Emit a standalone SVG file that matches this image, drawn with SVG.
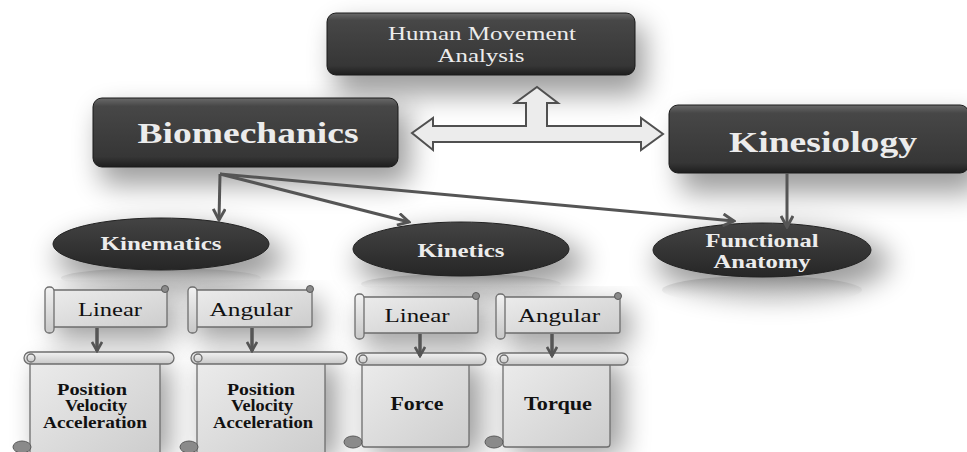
<svg xmlns="http://www.w3.org/2000/svg" width="967" height="452" viewBox="0 0 967 452">
<defs>
<style>
.box{fill:url(#boxg);stroke:#1a1a1a;stroke-width:1}
.ell{fill:url(#ellg);stroke:#222;stroke-width:1}
.wt{fill:#ececec;font-family:'Liberation Serif','Times New Roman','DejaVu Serif',serif;text-anchor:middle}
.bt{fill:#111;font-family:'Liberation Serif','Times New Roman','DejaVu Serif',serif;font-weight:bold;text-anchor:middle}
.nt{fill:#111;font-family:'Liberation Serif','Times New Roman','DejaVu Serif',serif;text-anchor:middle}
.paper{fill:url(#paperg);stroke:#6e6e6e;stroke-width:1.3}
.roll{fill:url(#rollg);stroke:#6e6e6e;stroke-width:1.3}
.curl{fill:#8a8a8a;stroke:#5a5a5a;stroke-width:1}
.con{stroke:#555;stroke-width:3;fill:none}
.sm{stroke:#555;stroke-width:3.5;fill:none}
.big{fill:#ececec;stroke:#505050;stroke-width:2}
.sh{fill:#000;opacity:0.38;filter:url(#blur)}
.ref{fill:url(#refg);opacity:0.5}
</style>
<linearGradient id="boxg" x1="0" y1="0" x2="0" y2="1">
<stop offset="0" stop-color="#6a6a6a"/>
<stop offset="0.12" stop-color="#474747"/>
<stop offset="0.85" stop-color="#363636"/>
<stop offset="1" stop-color="#1e1e1e"/>
</linearGradient>
<linearGradient id="ellg" x1="0" y1="0" x2="0" y2="1">
<stop offset="0" stop-color="#444"/>
<stop offset="1" stop-color="#262626"/>
</linearGradient>
<linearGradient id="paperg" x1="0" y1="0" x2="1" y2="1">
<stop offset="0" stop-color="#ececec"/>
<stop offset="1" stop-color="#cdcdcd"/>
</linearGradient>
<linearGradient id="rollg" x1="0" y1="0" x2="0" y2="1">
<stop offset="0" stop-color="#f2f2f2"/>
<stop offset="1" stop-color="#c8c8c8"/>
</linearGradient>
<linearGradient id="refg" x1="0" y1="0" x2="0" y2="1">
<stop offset="0" stop-color="#777"/>
<stop offset="1" stop-color="#fff" stop-opacity="0"/>
</linearGradient>
<filter id="blur" x="-50%" y="-50%" width="200%" height="200%"><feGaussianBlur stdDeviation="14"/></filter>
<marker id="ah" viewBox="0 0 12 12" refX="10" refY="6" markerWidth="12" markerHeight="12" markerUnits="userSpaceOnUse" orient="auto">
<path d="M1,1 L10,6 L1,11" fill="none" stroke="#555" stroke-width="2.6"/>
</marker>
<marker id="ah2" viewBox="0 0 14 14" refX="12" refY="7" markerWidth="14" markerHeight="14" markerUnits="userSpaceOnUse" orient="auto">
<path d="M1,1 L12,7 L1,13" fill="none" stroke="#555" stroke-width="3"/>
</marker>
</defs>
<rect width="967" height="452" fill="#fff"/>
<g id="shadows">
<rect class="sh" x="335" y="25" width="310" height="70" rx="10"/>
<rect class="sh" x="100" y="110" width="310" height="75" rx="10"/>
<rect class="sh" x="680" y="118" width="300" height="75" rx="10"/>
<ellipse class="sh" cx="170" cy="258" rx="115" ry="32"/>
<ellipse class="sh" cx="470" cy="262" rx="115" ry="32"/>
<ellipse class="sh" cx="772" cy="262" rx="118" ry="34"/>
<rect class="sh" x="55" y="300" width="120" height="40" opacity="0.25"/>
<rect class="sh" x="195" y="300" width="125" height="40" opacity="0.25"/>
<rect class="sh" x="362" y="306" width="125" height="40" opacity="0.25"/>
<rect class="sh" x="505" y="306" width="125" height="40" opacity="0.25"/>
<rect class="sh" x="38" y="365" width="132" height="95" opacity="0.25"/>
<rect class="sh" x="205" y="365" width="132" height="95" opacity="0.25"/>
<rect class="sh" x="370" y="365" width="112" height="90" opacity="0.25"/>
<rect class="sh" x="511" y="365" width="112" height="90" opacity="0.25"/>
</g>
<g id="reflections">
<ellipse class="ref" cx="161" cy="278" rx="100" ry="10"/>
<ellipse class="ref" cx="461" cy="284" rx="100" ry="10"/>
<ellipse class="ref" cx="762" cy="290" rx="100" ry="14"/>
</g>
<g id="hma">
<rect class="box" x="327" y="13" width="308" height="62" rx="9"/>
<text class="wt" x="482" y="40" font-size="18" textLength="188" lengthAdjust="spacingAndGlyphs">Human Movement</text>
<text class="wt" x="481" y="62" font-size="18" textLength="87" lengthAdjust="spacingAndGlyphs">Analysis</text>
</g>
<g id="biomechanics">
<rect class="box" x="93" y="98" width="305" height="69" rx="9"/>
<text class="wt" x="248" y="143" font-size="29" font-weight="bold" textLength="221" lengthAdjust="spacingAndGlyphs">Biomechanics</text>
</g>
<g id="kinesiology">
<rect class="box" x="669" y="105" width="300" height="68" rx="9"/>
<text class="wt" x="823" y="152" font-size="30" font-weight="bold" textLength="188" lengthAdjust="spacingAndGlyphs">Kinesiology</text>
</g>
<g id="kinematics">
<ellipse class="ell" cx="161" cy="244" rx="108" ry="26"/>
<text class="wt" x="161" y="250" font-size="19" font-weight="bold" textLength="121" lengthAdjust="spacingAndGlyphs">Kinematics</text>
</g>
<g id="kinetics">
<ellipse class="ell" cx="461" cy="249" rx="108" ry="27"/>
<text class="wt" x="461" y="257" font-size="19" font-weight="bold" textLength="87" lengthAdjust="spacingAndGlyphs">Kinetics</text>
</g>
<g id="functional-anatomy">
<ellipse class="ell" cx="762" cy="250" rx="109" ry="27"/>
<text class="wt" x="762" y="247" font-size="19" font-weight="bold" textLength="113" lengthAdjust="spacingAndGlyphs">Functional</text>
<text class="wt" x="762" y="268" font-size="19" font-weight="bold" textLength="97" lengthAdjust="spacingAndGlyphs">Anatomy</text>
</g>
<g id="banner-linear-1">
<rect class="paper" x="50" y="290" width="117" height="37" rx="2"/>
<rect class="roll" x="45" y="287" width="9" height="46" rx="4"/>
<circle class="curl" cx="165" cy="289" r="3.5"/>
<text class="nt" x="110" y="316" font-size="19" textLength="64" lengthAdjust="spacingAndGlyphs">Linear</text>
</g>
<g id="banner-angular-1">
<rect class="paper" x="193" y="290" width="119" height="37" rx="2"/>
<rect class="roll" x="188" y="287" width="9" height="46" rx="4"/>
<circle class="curl" cx="310" cy="289" r="3.5"/>
<text class="nt" x="251" y="316" font-size="19" textLength="83" lengthAdjust="spacingAndGlyphs">Angular</text>
</g>
<g id="banner-linear-2">
<rect class="paper" x="360" y="297" width="118" height="36" rx="2"/>
<rect class="roll" x="355" y="294" width="9" height="45" rx="4"/>
<circle class="curl" cx="476" cy="296" r="3.5"/>
<text class="nt" x="417" y="322" font-size="19" textLength="65" lengthAdjust="spacingAndGlyphs">Linear</text>
</g>
<g id="banner-angular-2">
<rect class="paper" x="501" y="297" width="119" height="36" rx="2"/>
<rect class="roll" x="496" y="294" width="9" height="45" rx="4"/>
<circle class="curl" cx="618" cy="296" r="3.5"/>
<text class="nt" x="559" y="322" font-size="19" textLength="82" lengthAdjust="spacingAndGlyphs">Angular</text>
</g>
<g id="scroll-1">
<rect class="paper" x="30" y="358" width="130" height="96"/>
<rect class="roll" x="24" y="352" width="150" height="12" rx="6"/>
<circle class="roll" cx="31" cy="358" r="4"/>
<ellipse class="curl" cx="22" cy="447" rx="9" ry="6"/>
<text class="bt" x="92" y="395" font-size="16" textLength="70" lengthAdjust="spacingAndGlyphs">Position</text>
<text class="bt" x="96" y="411" font-size="16" textLength="62" lengthAdjust="spacingAndGlyphs">Velocity</text>
<text class="bt" x="95" y="428" font-size="16" textLength="104" lengthAdjust="spacingAndGlyphs">Acceleration</text>
</g>
<g id="scroll-2">
<rect class="paper" x="197" y="358" width="128" height="96"/>
<rect class="roll" x="191" y="352" width="156" height="12" rx="6"/>
<circle class="roll" cx="198" cy="358" r="4"/>
<ellipse class="curl" cx="189" cy="447" rx="9" ry="6"/>
<text class="bt" x="261" y="395" font-size="16" textLength="68" lengthAdjust="spacingAndGlyphs">Position</text>
<text class="bt" x="262" y="411" font-size="16" textLength="62" lengthAdjust="spacingAndGlyphs">Velocity</text>
<text class="bt" x="263" y="428" font-size="16" textLength="100" lengthAdjust="spacingAndGlyphs">Acceleration</text>
</g>
<g id="scroll-3">
<rect class="paper" x="362" y="359" width="107" height="88" rx="3"/>
<rect class="roll" x="356" y="353" width="130" height="12" rx="6"/>
<circle class="roll" cx="363" cy="359" r="4"/>
<ellipse class="curl" cx="353" cy="442" rx="9" ry="6"/>
<text class="bt" x="417" y="410" font-size="18" textLength="53" lengthAdjust="spacingAndGlyphs">Force</text>
</g>
<g id="scroll-4">
<rect class="paper" x="503" y="359" width="107" height="88" rx="3"/>
<rect class="roll" x="497" y="353" width="131" height="12" rx="6"/>
<circle class="roll" cx="504" cy="359" r="4"/>
<ellipse class="curl" cx="494" cy="442" rx="9" ry="6"/>
<text class="bt" x="558" y="410" font-size="18" textLength="68" lengthAdjust="spacingAndGlyphs">Torque</text>
</g>
<g id="connectors">
<path class="big" d="M412,133 L433,118 L433,126 L526,126 L526,103 L515,103 L537,87 L558,103 L547,103 L547,126 L641,126 L641,118 L663,134 L641,150 L641,142 L433,142 L433,150 Z"/>
<line class="con" x1="220" y1="174" x2="219" y2="220" marker-end="url(#ah2)"/>
<line class="con" x1="220" y1="174" x2="409" y2="222" marker-end="url(#ah2)"/>
<line class="con" x1="220" y1="174" x2="734" y2="221" marker-end="url(#ah2)"/>
<line class="con" x1="787" y1="173" x2="787" y2="227" marker-end="url(#ah2)"/>
<line class="sm" x1="97" y1="328" x2="97" y2="351" marker-end="url(#ah)"/>
<line class="sm" x1="252" y1="328" x2="252" y2="351" marker-end="url(#ah)"/>
<line class="sm" x1="420" y1="334" x2="420" y2="356" marker-end="url(#ah)"/>
<line class="sm" x1="552" y1="334" x2="552" y2="356" marker-end="url(#ah)"/>
</g>
</svg>
